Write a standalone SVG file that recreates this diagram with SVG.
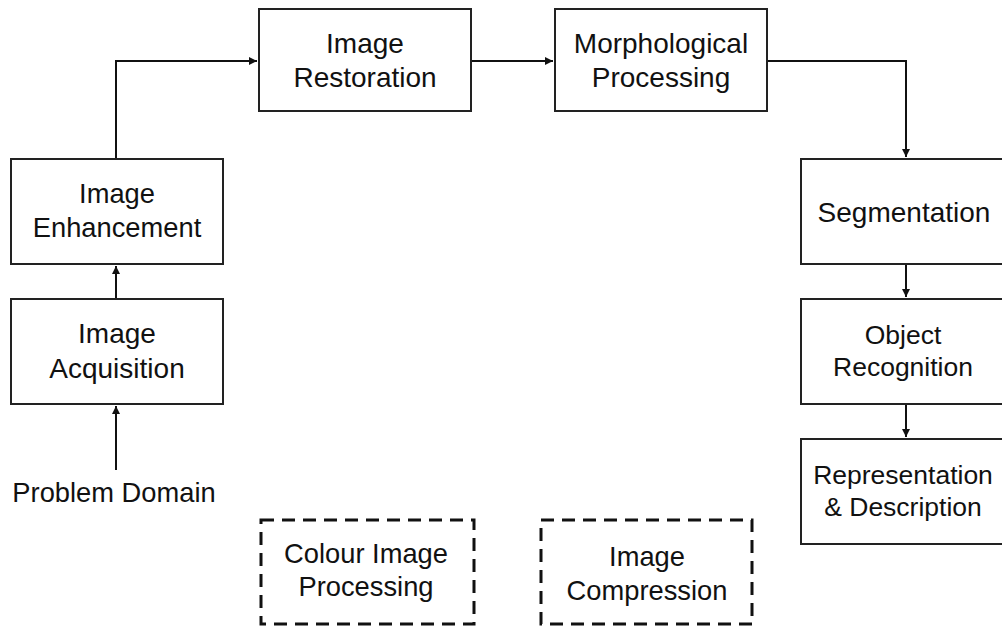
<svg xmlns="http://www.w3.org/2000/svg" width="1002" height="627" viewBox="0 0 1002 627">
<defs>
<marker id="ah" viewBox="0 0 10 10" refX="10" refY="5" markerWidth="4" markerHeight="4" orient="auto" markerUnits="strokeWidth">
<path d="M0,0 L10,5 L0,10 z" fill="#111"/>
</marker>
<style>
.box{fill:#fff;stroke:#222;stroke-width:2}
.dash{fill:none;stroke:#111;stroke-width:3;stroke-dasharray:13 8}
.t{font-family:"Liberation Sans",Arial,sans-serif;font-size:28px;fill:#111;text-anchor:middle}
.s{font-size:26.5px}
.m{font-size:27.3px}
.c{fill:none;stroke:#111;stroke-width:2}
</style>
</defs>
<rect width="1002" height="627" fill="#fff"/>
<g id="connectors">
<path class="c" d="M116,159 V61 H257" marker-end="url(#ah)"/>
<path class="c" d="M471,61 H553" marker-end="url(#ah)"/>
<path class="c" d="M767,61 H906 V157" marker-end="url(#ah)"/>
<path class="c" d="M116,299 V266" marker-end="url(#ah)"/>
<path class="c" d="M116,470 V406" marker-end="url(#ah)"/>
<path class="c" d="M906,264 V297" marker-end="url(#ah)"/>
<path class="c" d="M906,404 V437" marker-end="url(#ah)"/>
</g>
<g id="image-restoration">
<rect class="box" x="259" y="9" width="212" height="102"/>
<text class="t" x="365" y="53">Image</text>
<text class="t" x="365" y="87">Restoration</text>
</g>
<g id="morphological-processing">
<rect class="box" x="555" y="9" width="212" height="102"/>
<text class="t" x="661" y="53">Morphological</text>
<text class="t" x="661" y="87">Processing</text>
</g>
<g id="image-enhancement">
<rect class="box" x="11" y="159" width="212" height="105"/>
<text class="t m" x="117" y="203">Image</text>
<text class="t m" x="117" y="237">Enhancement</text>
</g>
<g id="image-acquisition">
<rect class="box" x="11" y="299" width="212" height="105"/>
<text class="t" x="117" y="343">Image</text>
<text class="t" x="117" y="378">Acquisition</text>
</g>
<g id="problem-domain">
<text class="t m" x="114" y="502">Problem Domain</text>
</g>
<g id="segmentation">
<rect class="box" x="801" y="159" width="212" height="105"/>
<text class="t" x="904" y="222">Segmentation</text>
</g>
<g id="object-recognition">
<rect class="box" x="801" y="299" width="212" height="105"/>
<text class="t s" x="903" y="344">Object</text>
<text class="t s" x="903" y="376">Recognition</text>
</g>
<g id="representation-description">
<rect class="box" x="801" y="439" width="212" height="105"/>
<text class="t s" x="903" y="484">Representation</text>
<text class="t s" x="903" y="516">&amp; Description</text>
</g>
<g id="colour-image-processing">
<rect class="dash" x="261" y="520" width="213" height="104"/>
<text class="t m" x="366" y="563">Colour Image</text>
<text class="t m" x="366" y="596">Processing</text>
</g>
<g id="image-compression">
<rect class="dash" x="541" y="520" width="211" height="104"/>
<text class="t m" x="647" y="566">Image</text>
<text class="t m" x="647" y="600">Compression</text>
</g>
</svg>
